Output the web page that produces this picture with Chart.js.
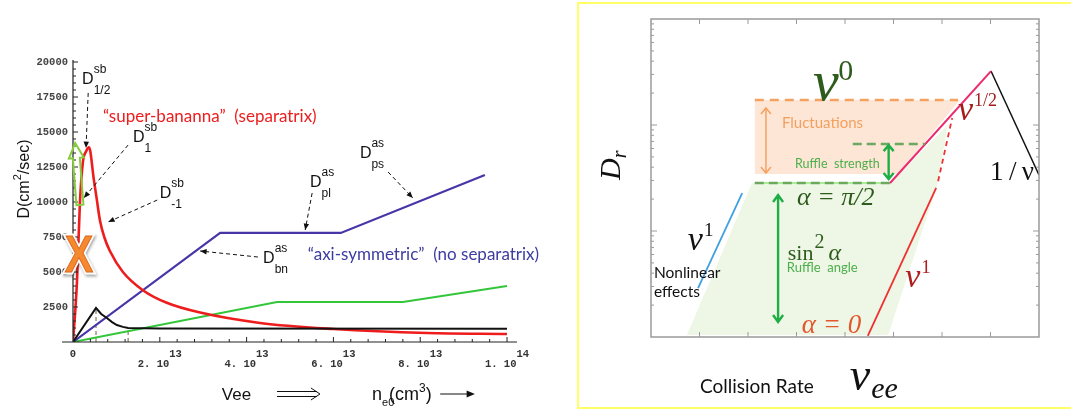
<!DOCTYPE html>
<html lang="en">
<head>
  <meta charset="UTF-8" />
  <title>Diffusion regimes</title>
  <script src="https://cdn.jsdelivr.net/npm/chart.js"></script>
  <style>
    body { margin: 0; background: #fff; width: 1071px; height: 411px; overflow: hidden; position: relative; }
    #leftChart { position: absolute; left: 0; top: 0; }
    #rightChart { position: absolute; left: 578px; top: 0; }
    .frame { position: absolute; left: 577px; top: 2px; width: 600px; height: 407px; border: 2px solid #ffff66; box-sizing: border-box; }
  </style>
</head>
<body>
  <div class="frame"></div>
  <canvas id="leftChart" width="570" height="411"></canvas>
  <canvas id="rightChart" width="493" height="411"></canvas>

  <script>
    // ---- left plot: x in units of 1e13 cm^-3, D in cm^2/sec
    const redX = [0, 0.09, 0.16, 0.23, 0.30, 0.37, 0.48, 0.55, 0.62, 0.72, 0.85, 1.15, 1.61, 2.16, 2.93, 4.31, 6.0, 8.16, 10];
    const redD = [0, 4200, 10000, 12900, 13600, 13900, 11600, 10150, 8700, 7500, 6500, 5000, 3700, 2800, 2100, 1360, 930, 640, 570];
    const blackX = [0, 0.53, 0.65, 0.78, 0.90, 1.01, 1.15, 1.27, 2, 10];
    const blackD = [0, 2430, 2000, 1710, 1420, 1210, 1080, 1000, 970, 940];
    const blueX = [0, 3.39, 6.17, 9.49];
    const blueD = [0, 7790, 7790, 11930];
    const greenX = [0, 4.7, 7.6, 10];
    const greenD = [0, 2860, 2860, 4000];
    const dropX = [0.53, 1.27];
    const dropTop = [2430, 1000];

    const xMajor = [0, 2, 4, 6, 8, 10];
    const xMajorText = ['0', '2. 10', '4. 10', '6. 10', '8. 10', '1. 10'];
    const xMajorExp = ['', '13', '13', '13', '13', '14'];
    const xTickVals = Array.from({ length: 26 }, (_, i) => +(i * 0.4).toFixed(1));
    const yTickVals = Array.from({ length: 41 }, (_, i) => i * 500);

    // ---- right sketch: x = collision rate (arb.), y = log10 D_r (3 decades)
    const greenShape = [[0.74, 0.02], [2.08, 1.45], [4.93, 1.45], [6.12, 2.0], [5.90, 1.43], [4.89, 0.02]];
    const orangeShape = [[2.14, 2.236], [6.37, 2.236], [5.09, 1.538], [2.14, 1.538]];
    const fluctLine = [[2.14, 2.236], [6.33, 2.236]];
    const halfPiLine = [[2.14, 1.453], [4.93, 1.453]];
    const ruffleLine = [[4.16, 1.821], [5.65, 1.821]];
    const sqrtLine = [[4.93, 1.453], [7.01, 2.509]];
    const inverseLine = [[7.01, 2.509], [8.0, 1.528]];
    const zeroLine = [[4.47, 0.01], [5.88, 1.406]];
    const zeroDash = [[5.92, 1.47], [6.21, 2.066]];
    const nonlinLine = [[0.97, 0.462], [1.88, 1.358]];

    const pts = (xs, ys) => xs.map((x, i) => ({ x, y: ys[i] }));
    const pairs = arr => arr.map(([x, y]) => ({ x, y }));

    function arrowHead(ctx, x1, y1, x2, y2, size) {
      const ang = Math.atan2(y2 - y1, x2 - x1);
      ctx.beginPath();
      ctx.moveTo(x2, y2);
      ctx.lineTo(x2 - size * Math.cos(ang - 0.4), y2 - size * Math.sin(ang - 0.4));
      ctx.lineTo(x2 - size * Math.cos(ang + 0.4), y2 - size * Math.sin(ang + 0.4));
      ctx.closePath();
      ctx.fill();
    }

    const leftDecor = {
      id: 'leftDecor',
      afterDraw(chart) {
        const { ctx, chartArea: a, scales: { x, y } } = chart;
        const P = (vx, vy) => [x.getPixelForValue(vx), y.getPixelForValue(vy)];
        ctx.save();
        // Mathematica style axes
        ctx.strokeStyle = '#222';
        ctx.lineWidth = 1.2;
        ctx.beginPath();
        ctx.moveTo(a.left - 11, a.bottom); ctx.lineTo(a.right, a.bottom);
        ctx.moveTo(a.left, a.bottom); ctx.lineTo(a.left, a.top - 2);
        ctx.stroke();
        ctx.lineWidth = 1;
        ctx.beginPath();
        xTickVals.forEach(v => {
          if (v === 0) return;
          const px = x.getPixelForValue(v);
          const big = xMajor.some(m => Math.abs(m - v) < 1e-6);
          ctx.moveTo(px, a.bottom); ctx.lineTo(px, a.bottom - (big ? 5 : 3));
        });
        yTickVals.forEach(v => {
          if (v === 0) return;
          const py = y.getPixelForValue(v);
          ctx.moveTo(a.left, py); ctx.lineTo(a.left + (v % 2500 === 0 ? 5 : 3), py);
        });
        ctx.stroke();

        // axis titles
        ctx.fillStyle = '#111';
        ctx.textBaseline = 'alphabetic';
        ctx.save();
        const [, ty] = P(0, 11640);
        ctx.translate(a.left - 44, ty);
        ctx.rotate(-Math.PI / 2);
        ctx.font = '16px "Liberation Sans"';
        const w1 = ctx.measureText('D(cm').width, w3 = ctx.measureText('/sec)').width;
        ctx.font = '11px "Liberation Sans"';
        const w2 = ctx.measureText('2').width;
        let cx = -(w1 + w2 + w3) / 2;
        ctx.font = '16px "Liberation Sans"';
        ctx.fillText('D(cm', cx, 0); cx += w1;
        ctx.font = '11px "Liberation Sans"';
        ctx.fillText('2', cx, -8); cx += w2;
        ctx.font = '16px "Liberation Sans"';
        ctx.fillText('/sec)', cx, 0);
        ctx.restore();

        const base = a.bottom + 58;
        ctx.font = '17px "Liberation Sans"';
        ctx.fillText('Vee', x.getPixelForValue(3.43), base);
        let nx = x.getPixelForValue(6.89);
        ctx.font = '18px "Liberation Sans"';
        ctx.fillText('n', nx, base); nx += ctx.measureText('n').width;
        ctx.font = '11px "Liberation Sans"';
        ctx.fillText('e0', nx, base + 6);
        ctx.font = '18px "Liberation Sans"';
        ctx.fillText('(cm', nx + 7, base); nx += 7 + ctx.measureText('(cm').width;
        ctx.font = '12px "Liberation Sans"';
        ctx.fillText('3', nx, base - 8); nx += ctx.measureText('3').width;
        ctx.font = '18px "Liberation Sans"';
        ctx.fillText(')', nx, base);
        // double arrow and plain arrow
        const d1 = x.getPixelForValue(4.7), d2 = x.getPixelForValue(5.69), dy = a.bottom + 52;
        ctx.strokeStyle = '#111'; ctx.lineWidth = 1;
        ctx.beginPath();
        ctx.moveTo(d1, dy - 2.5); ctx.lineTo(d2 - 3, dy - 2.5);
        ctx.moveTo(d1, dy + 2.5); ctx.lineTo(d2 - 3, dy + 2.5);
        ctx.moveTo(d2 - 9, dy - 6); ctx.lineTo(d2, dy); ctx.lineTo(d2 - 9, dy + 6);
        ctx.stroke();
        const s1 = x.getPixelForValue(8.46), s2 = x.getPixelForValue(9.26);
        ctx.beginPath(); ctx.moveTo(s1, dy); ctx.lineTo(s2 - 4, dy); ctx.stroke();
        arrowHead(ctx, s1, dy, s2, dy, 9);

        // curve labels
        ctx.font = '17px Lato';
        ctx.fillStyle = '#ee1c1c';
        let [px, py] = P(0.69, 15710);
        ctx.fillText('\u201csuper-bananna\u201d  (separatrix)', px, py);
        ctx.fillStyle = '#3c3ca0';
        [px, py] = P(5.41, 5860);
        ctx.fillText('\u201caxi-symmetric\u201d  (no separatrix)', px, py);

        ctx.fillStyle = '#111';
        const dLabel = (vx, vy, sup, sub) => {
          const [lx, ly] = P(vx, vy);
          ctx.font = '16px "Liberation Sans"';
          ctx.fillText('D', lx, ly);
          const w = ctx.measureText('D').width;
          ctx.font = '12px "Liberation Sans"';
          ctx.fillText(sup, lx + w, ly - 11);
          ctx.fillText(sub, lx + w, ly + 10);
        };
        dLabel(0.21, 18430, 'sb', '1/2');
        dLabel(1.38, 14290, 'sb', '1');
        dLabel(2.0, 10290, 'sb', '-1');
        dLabel(5.46, 11070, 'as', 'pl');
        dLabel(6.61, 13140, 'as', 'ps');
        dLabel(4.38, 5640, 'as', 'bn');

        const dashArrow = (x1, y1, x2, y2) => {
          const [ax, ay] = P(x1, y1), [bx, by] = P(x2, y2);
          ctx.setLineDash([4, 3]);
          ctx.lineWidth = 1;
          ctx.beginPath(); ctx.moveTo(ax, ay); ctx.lineTo(bx, by); ctx.stroke();
          ctx.setLineDash([]);
          arrowHead(ctx, ax, ay, bx, by, 7);
        };
        dashArrow(0.35, 17790, 0.30, 13860);
        dashArrow(1.27, 14070, 0.25, 10290);
        dashArrow(1.94, 10140, 0.81, 8570);
        dashArrow(5.51, 10640, 5.35, 8000);
        dashArrow(7.26, 12140, 7.83, 10290);
        dashArrow(4.26, 6070, 2.93, 6500);

        // hollow green arrow
        const [bx, by] = P(0.16, 9790), [tx, tyy] = P(0.05, 14210);
        const ddx = tx - bx, ddy = tyy - by, len = Math.hypot(ddx, ddy);
        const ux = ddx / len, uy = ddy / len, nxv = -uy, nyv = ux;
        const q = (t, s) => [bx + ux * t + nxv * s, by + uy * t + nyv * s];
        const poly = [q(0, -3.5), q(len - 15, -3.5), q(len - 15, -7.5), q(len, 0), q(len - 15, 7.5), q(len - 15, 3.5), q(0, 3.5)];
        ctx.strokeStyle = '#86cc3c'; ctx.lineWidth = 2;
        ctx.beginPath();
        poly.forEach((p, i) => i ? ctx.lineTo(p[0], p[1]) : ctx.moveTo(p[0], p[1]));
        ctx.closePath(); ctx.stroke();

        // orange X marker
        [px, py] = P(0.14, 6000);
        ctx.save();
        ctx.translate(px, py);
        ctx.scale(0.82, 1);
        ctx.font = 'bold 52px "Liberation Sans"';
        ctx.textAlign = 'center'; ctx.textBaseline = 'middle';
        ctx.shadowColor = 'rgba(0,0,0,0.35)'; ctx.shadowBlur = 3; ctx.shadowOffsetX = 1; ctx.shadowOffsetY = 2;
        ctx.strokeStyle = '#ffffff'; ctx.lineWidth = 5;
        ctx.strokeText('X', 0, 0);
        ctx.shadowColor = 'transparent';
        ctx.fillStyle = '#f5892f';
        ctx.fillText('X', 0, 0);
        ctx.strokeStyle = '#d9661a'; ctx.lineWidth = 1;
        ctx.strokeText('X', 0, 0);
        ctx.restore();
        ctx.restore();
      }
    };

    new Chart(document.getElementById('leftChart'), {
      type: 'line',
      data: {
        datasets: [
          { data: pts(blackX, blackD), borderColor: '#111', borderWidth: 2 },
          { data: pts(redX, redD), borderColor: '#ee1c1c', borderWidth: 2.6, cubicInterpolationMode: 'monotone' },
          { data: pts(blueX, blueD), borderColor: '#4836a8', borderWidth: 2.2 },
          { data: pts(greenX, greenD), borderColor: '#33c63a', borderWidth: 2 },
          { data: [{ x: dropX[0], y: 0 }, { x: dropX[0], y: dropTop[0] }], borderColor: '#7a5a3a', borderWidth: 1, borderDash: [4, 3] },
          { data: [{ x: dropX[1], y: 0 }, { x: dropX[1], y: dropTop[1] }], borderColor: '#7a5a3a', borderWidth: 1, borderDash: [4, 3] }
        ]
      },
      options: {
        responsive: false,
        animation: false,
        elements: { point: { radius: 0 }, line: { tension: 0 } },
        plugins: { legend: { display: false }, tooltip: { enabled: false } },
        layout: { padding: { top: 62, right: 53, left: 0, bottom: 0 } },
        scales: {
          x: {
            type: 'linear', min: 0, max: 10.23,
            grid: { display: false, drawTicks: false }, border: { display: false },
            afterBuildTicks: s => { s.ticks = xTickVals.map(v => ({ value: v })); },
            afterFit: s => { s.height = 69; },
            ticks: {
              autoSkip: false, maxRotation: 0, minRotation: 0, padding: 8, color: '#333',
              font: { family: 'Liberation Mono', size: 10.5, weight: 'bold', lineHeight: 0.9 },
              callback: v => {
                const i = xMajor.findIndex(m => Math.abs(m - v) < 1e-6);
                if (i < 0) return '';
                if (i === 0) return ['0', ''];
                return ['     ' + xMajorExp[i], xMajorText[i] + '  '];
              }
            }
          },
          y: {
            min: 0, max: 20000,
            grid: { display: false, drawTicks: false }, border: { display: false },
            afterBuildTicks: s => { s.ticks = yTickVals.map(v => ({ value: v })); },
            afterFit: s => { s.width = 73; },
            ticks: {
              autoSkip: false, padding: 5, color: '#444',
              font: { family: 'Liberation Mono', size: 10.5, weight: 'bold' },
              callback: v => (v > 0 && v % 2500 === 0 ? String(v) : '')
            }
          }
        }
      },
      plugins: [leftDecor]
    });

    // ---- right sketch
    const rightDecor = {
      id: 'rightDecor',
      afterDraw(chart) {
        const { ctx, chartArea: a, scales: { x, y } } = chart;
        const P = (vx, vy) => [x.getPixelForValue(vx), y.getPixelForValue(vy)];
        ctx.save();
        ctx.strokeStyle = '#9a9a9a'; ctx.lineWidth = 1.5;
        ctx.strokeRect(a.left, a.top, a.right - a.left, a.bottom - a.top);
        ctx.lineWidth = 1;
        ctx.beginPath();
        for (let k = 1; k < 8; k++) {
          const px = x.getPixelForValue(k);
          ctx.moveTo(px, a.bottom); ctx.lineTo(px, a.bottom - 5);
          ctx.moveTo(px, a.top); ctx.lineTo(px, a.top + 5);
        }
        for (let d = 0; d < 3; d++) {
          for (let m = 1; m <= 9; m++) {
            const v = d + Math.log10(m);
            if (v === 0) continue;
            const py = y.getPixelForValue(v), len = m === 1 ? 6 : 3;
            ctx.moveTo(a.left, py); ctx.lineTo(a.left + len, py);
            ctx.moveTo(a.right, py); ctx.lineTo(a.right - len, py);
          }
        }
        ctx.stroke();

        // double arrows
        const dbl = (vx, v1, v2, color, lw, hw, hh) => {
          const [px, p1] = P(vx, v1), [, p2] = P(vx, v2);
          ctx.strokeStyle = color; ctx.lineWidth = lw;
          ctx.beginPath();
          ctx.moveTo(px, p1); ctx.lineTo(px, p2);
          ctx.moveTo(px - hw, p1 + hh); ctx.lineTo(px, p1); ctx.lineTo(px + hw, p1 + hh);
          ctx.moveTo(px - hw, p2 - hh); ctx.lineTo(px, p2); ctx.lineTo(px + hw, p2 - hh);
          ctx.stroke();
        };
        dbl(2.62, 1.34, 0.142, '#1fae45', 2.4, 5, 7);
        dbl(2.37, 2.16, 1.547, '#f4a261', 1.5, 5, 6);
        dbl(4.90, 1.81, 1.49, '#1fae45', 2.4, 5, 6);

        ctx.textBaseline = 'alphabetic';
        const put = (str, vx, vy, font, color) => {
          const [px, py] = P(vx, vy);
          ctx.font = font; ctx.fillStyle = color;
          ctx.fillText(str, px, py);
          return px + ctx.measureText(str).width;
        };
        const serif = '"Liberation Serif"';
        // nu^0
        put('\u03bd', 3.34, 2.236, `italic 58px ${serif}`, '#2e5c1c');
        put('0', 3.86, 2.425, `30px ${serif}`, '#2e5c1c');
        put('Fluctuations', 2.70, 1.97, '15px Lato', '#f2a060');
        put('Ruffle  strength', 2.97, 1.594, '12.5px Lato', '#4cae4c');
        put('\u03b1 = \u03c0/2', 3.01, 1.245, `italic 26px ${serif}`, '#2e5c1c');
        // sin^2 alpha
        const sx = put('sin', 2.82, 0.726, `22px ${serif}`, '#2e5c1c');
        ctx.font = `20px ${serif}`;
        const [, sBase] = P(0, 0.726);
        ctx.fillText('2', sx + 1, sBase - 12);
        const w2 = ctx.measureText('2').width;
        ctx.font = `italic 24px ${serif}`;
        ctx.fillText('\u03b1', sx + w2 + 5, sBase);
        put('Ruffle  angle', 2.80, 0.613, '13px Lato', '#4cae4c');
        put('\u03b1 = 0', 3.11, 0.038, `italic 27px ${serif}`, '#e4562e');

        const nuPow = (vx, vy, pow, color, big, small) => {
          const end = put('\u03bd', vx, vy, `italic ${big}px ${serif}`, color);
          const [, py] = P(vx, vy);
          ctx.font = `${small}px ${serif}`;
          ctx.fillText(pow, end + 1, py - big * 0.42);
        };
        nuPow(5.24, 0.472, '1', '#b01e1e', 34, 19);
        nuPow(6.33, 2.047, '1/2', '#a51c1c', 34, 18);
        nuPow(0.76, 0.821, '1', '#111', 34, 19);
        put('1\u2009/\u2009\u03bd', 6.99, 1.481, `27px ${serif}`, '#111');
        put('Nonlinear', 0.06, 0.557, '15.5px Lato', '#111');
        put('effects', 0.06, 0.377, '15.5px Lato', '#111');
        put('Collision Rate', 1.01, -0.528, '19px Lato', '#111');
        const nuEnd = put('\u03bd', 4.10, -0.5, `italic 46px ${serif}`, '#111');
        const [, eeY] = P(0, -0.575);
        ctx.font = `italic 30px ${serif}`;
        ctx.fillText('ee', nuEnd + 1, eeY);

        // D_r
        const [dx, dy] = P(-0.64, 1.481);
        ctx.save();
        ctx.translate(dx, dy);
        ctx.rotate(-Math.PI / 2);
        ctx.fillStyle = '#111';
        ctx.font = `italic 30px ${serif}`;
        ctx.fillText('D', 0, 0);
        const wd = ctx.measureText('D').width;
        ctx.font = `italic 20px ${serif}`;
        ctx.fillText('r', wd, 6);
        ctx.restore();
        ctx.restore();
      }
    };

    new Chart(document.getElementById('rightChart'), {
      type: 'line',
      data: {
        datasets: [
          { data: pairs(greenShape), fill: 'shape', backgroundColor: '#eef7e5', borderColor: 'rgba(0,0,0,0)', order: 10 },
          { data: pairs(orangeShape), fill: 'shape', backgroundColor: '#fde6d6', borderColor: 'rgba(0,0,0,0)', order: 9 },
          { data: pairs(fluctLine), borderColor: '#f4a261', borderWidth: 2.5, borderDash: [9, 6] },
          { data: pairs(halfPiLine), borderColor: '#5be33a', borderWidth: 1, order: 2 },
          { data: pairs(halfPiLine), borderColor: '#6ca860', borderWidth: 2.5, borderDash: [9, 5], order: 1 },
          { data: pairs(ruffleLine), borderColor: '#6ca860', borderWidth: 2.5, borderDash: [9, 5] },
          { data: pairs(sqrtLine), borderColor: '#ec2a6e', borderWidth: 2 },
          { data: pairs(inverseLine), borderColor: '#111', borderWidth: 1.5 },
          { data: pairs(zeroLine), borderColor: '#f03030', borderWidth: 1.8 },
          { data: pairs(zeroDash), borderColor: '#f03030', borderWidth: 1.8, borderDash: [5, 4] },
          { data: pairs(nonlinLine), borderColor: '#3fa0e0', borderWidth: 1.8 }
        ]
      },
      options: {
        responsive: false,
        animation: false,
        elements: { point: { radius: 0 }, line: { tension: 0 } },
        plugins: { legend: { display: false }, tooltip: { enabled: false } },
        layout: { padding: { left: 73, right: 32, top: 19, bottom: 74 } },
        scales: {
          x: { type: 'linear', display: false, min: 0, max: 8 },
          y: { type: 'linear', display: false, min: 0, max: 3 }
        }
      },
      plugins: [rightDecor]
    });
  </script>
</body>
</html>
